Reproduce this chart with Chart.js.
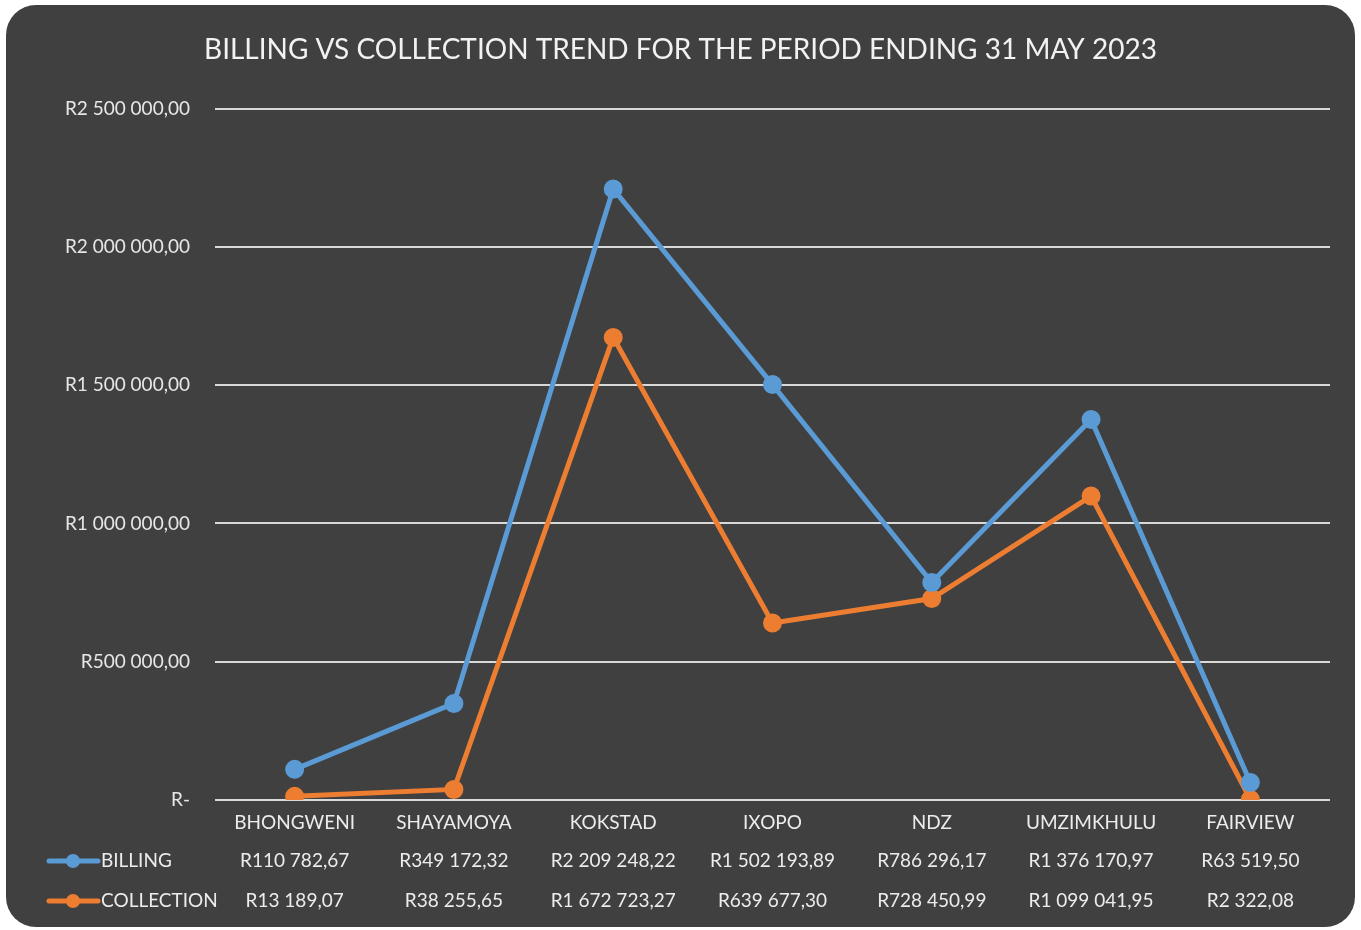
<!DOCTYPE html>
<html>
<head>
<meta charset="utf-8">
<script src="https://cdn.jsdelivr.net/npm/chart.js@4.4.0/dist/chart.umd.min.js"></script>
<style>
  html, body { margin: 0; padding: 0; background: #ffffff; }
  #wrap { position: absolute; left: 0; top: 0; width: 1361px; height: 930px; }
</style>
</head>
<body>
<div id="wrap"><canvas id="myChart" width="1361" height="930"></canvas></div>
<script>
var categories = ['BHONGWENI', 'SHAYAMOYA', 'KOKSTAD', 'IXOPO', 'NDZ', 'UMZIMKHULU', 'FAIRVIEW'];
var billing = [110782.67, 349172.32, 2209248.22, 1502193.89, 786296.17, 1376170.97, 63519.50];
var collection = [13189.07, 38255.65, 1672723.27, 639677.30, 728450.99, 1099041.95, 2322.08];
var yTicks = [0, 500000, 1000000, 1500000, 2000000, 2500000];

var blue = '#5b9bd5';
var orange = '#ed7d31';
var fontName = 'Lato, "Open Sans", sans-serif';

function rand(v) {
  if (v == 0) {
    return 'R-';
  }
  var parts = v.toFixed(2).split('.');
  var intPart = parts[0].replace(/\B(?=(\d{3})+(?!\d))/g, ' ');
  return 'R' + intPart + ',' + parts[1];
}

// dark rounded panel behind everything
var panel = {
  id: 'panel',
  beforeDraw: function (chart) {
    var ctx = chart.ctx;
    ctx.save();
    ctx.fillStyle = '#ffffff';
    ctx.fillRect(0, 0, chart.width, chart.height);
    ctx.fillStyle = '#404040';
    ctx.beginPath();
    ctx.roundRect(6, 5, 1349, 922, 30);
    ctx.fill();
    ctx.restore();
  }
};

// data table under the x axis
var dataTable = {
  id: 'dataTable',
  afterDraw: function (chart) {
    var ctx = chart.ctx;
    var x = chart.scales.x;
    var rows = [
      { name: 'BILLING', color: blue, values: billing, y: 861 },
      { name: 'COLLECTION', color: orange, values: collection, y: 901 }
    ];
    ctx.save();
    ctx.font = '19px ' + fontName;
    ctx.textBaseline = 'middle';
    rows.forEach(function (row) {
      ctx.strokeStyle = row.color;
      ctx.lineWidth = 5;
      ctx.lineCap = 'round';
      ctx.beginPath();
      ctx.moveTo(49, row.y);
      ctx.lineTo(98, row.y);
      ctx.stroke();
      ctx.fillStyle = row.color;
      ctx.beginPath();
      ctx.arc(73, row.y, 7, 0, Math.PI * 2);
      ctx.fill();
      ctx.fillStyle = '#ececec';
      ctx.textAlign = 'left';
      ctx.fillText(row.name, 101, row.y);
      ctx.textAlign = 'center';
      for (var i = 0; i < row.values.length; i++) {
        ctx.fillText(rand(row.values[i]), x.getPixelForValue(i), row.y);
      }
    });
    ctx.restore();
  }
};

var ctx = document.getElementById('myChart').getContext('2d');
window.myLine = new Chart(ctx, {
  type: 'line',
  data: {
    labels: categories,
    datasets: [{
      label: 'BILLING',
      data: billing,
      borderColor: blue,
      backgroundColor: blue,
      borderWidth: 5,
      pointRadius: 7,
      pointHoverRadius: 7,
      tension: 0
    }, {
      label: 'COLLECTION',
      data: collection,
      borderColor: orange,
      backgroundColor: orange,
      borderWidth: 5,
      pointRadius: 7,
      pointHoverRadius: 7,
      tension: 0
    }]
  },
  options: {
    responsive: false,
    animation: false,
    layout: {
      padding: { left: 31, right: 31, top: 0, bottom: 0 }
    },
    plugins: {
      legend: { display: false },
      tooltip: { enabled: false },
      title: {
        display: true,
        text: 'BILLING VS COLLECTION TREND FOR THE PERIOD ENDING 31 MAY 2023',
        color: '#f2f2f2',
        font: { family: fontName, size: 28, weight: 'normal' },
        padding: { top: 33, bottom: 42 }
      }
    },
    scales: {
      x: {
        offset: true,
        grid: { display: false },
        border: { display: false },
        ticks: {
          color: '#ececec',
          font: { family: fontName, size: 19 },
          padding: 3,
          maxRotation: 0,
          autoSkip: false
        },
        afterFit: function (scale) {
          scale.height = 130;
        }
      },
      y: {
        min: 0,
        max: 2500000,
        afterBuildTicks: function (scale) {
          scale.ticks = yTicks.map(function (v) { return { value: v }; });
        },
        grid: {
          color: '#d9d9d9',
          lineWidth: 2,
          drawTicks: false
        },
        border: { display: false },
        ticks: {
          color: '#e6e6e6',
          font: { family: fontName, size: 19 },
          padding: 25,
          callback: function (v) { return rand(v); }
        },
        afterFit: function (scale) {
          scale.width = 184;
        }
      }
    }
  },
  plugins: [panel, dataTable]
});
</script>
</body>
</html>
